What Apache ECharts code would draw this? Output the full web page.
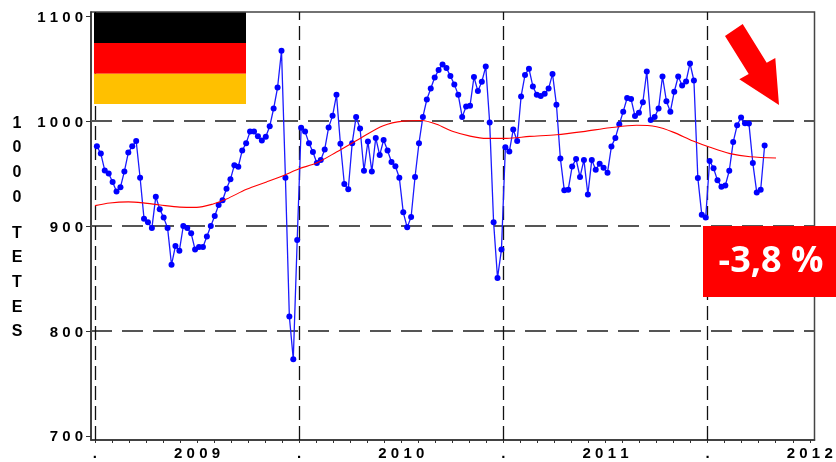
<!DOCTYPE html>
<html><head><meta charset="utf-8">
<style>html,body{margin:0;padding:0;background:#fff}#c{width:836px;height:462px}</style>
<script src="https://cdn.jsdelivr.net/npm/echarts@6/dist/echarts.min.js"></script>
</head><body><div id="c"></div>
<script>
const weeklyValues=[976,969,953,950,942,933,937,952,970,976,981,946,907,903.5,898,928,916,908,898,863,881,876.5,900,898,893,877.5,880,880,890,900,909.5,920,924.5,935.5,944.5,958,956.5,972,979,990,990,985.5,981.5,985,995,1012,1032,1067,946,813.7,773,886.7,
993.7,990,979,970.5,960,963,973,994,1005,1025,978.4,940,935,979,1004,993,952.7,980.6,952,984,967.6,982,972,961,957,946,913,898.7,908.6,946.7,979,1004,1020.6,1031,1041.6,1048.6,1054,1050.5,1043,1035,1025,1004,1014,1014.6,1042,1028.6,1037.5,1052,998.7,903.5,850.5,877.5,
975,971,992,981,1023.5,1044,1050,1033,1025,1024,1026,1031,1045,1015.6,964.4,934,934.6,956.8,963.8,946.7,963,930,963,953.6,959.4,955.6,950.8,975.9,984,997,1009,1022,1021,1004.8,1008,1018,1047.3,1001,1004,1012,1042.5,1019,1009,1028,1042.5,1034,1037.8,1055,1038.7,945.7,910.8,908,
962,955,943.5,937.5,938.7,952.7,980,996,1003.5,998,997.8,960,932,934.6,976.8];
const trendWeeks=[0,3.8,8.5,12.3,16.6,21.6,25.9,30.1,33.5,38.6,43.7,47.9,52,56.4,61.5,67.5,73.4,78.5,83.2,87,91.2,95.5,99.7,104.8,110.7,117.5,124.3,131.1,137.9,143,147.2,152.3,156.6,161.7,166.8,173.4];
const trendValues=[919.4,922,923,922,920,918,917.8,921,925.7,935,942,948,954.6,960,970.5,983.5,995.6,1000,1000.6,997,990,985.7,983.5,983.5,985.4,987,990,993.6,996,994.6,989.5,981,975,969,966,964.8];
const yTicks=[700,800,900,1000,1100];
const gridLevels=[800,900,1000];
const yearStarts=[0,52,104,156];
const yearLabels=['2009','2010','2011','2012'];
const unitLabel=['1','0','0','0'];
const nameLabel=['T','E','T','E','S'];
const monthTicks=[];for(let m=0;m<=42;m++)monthTicks.push(m*52/12);
const labelTicks=[];for(let y=0;y<4;y++){labelTicks.push(y*52);labelTicks.push(y*52+26);}
const spaced=s=>String(s).split('').join(' ');
const bold={fontFamily:'"Liberation Sans",Arial,sans-serif',fontWeight:'bold',color:'#000'};
const sideText={...bold,fontSize:16,lineHeight:24.6,align:'center'};
const chart=echarts.init(document.getElementById('c'),null,{renderer:'canvas'});
chart.setOption({
 animation:false,backgroundColor:'#fff',
 title:[
  {text:unitLabel.join('\n'),left:17,top:111,padding:0,textAlign:'center',textStyle:sideText},
  {text:nameLabel.join('\n'),left:17,top:221,padding:0,textAlign:'center',textStyle:sideText}
 ],
 grid:{left:91,right:21.5,top:12,bottom:22,show:true,borderColor:'#444',borderWidth:1.5,backgroundColor:'transparent'},
 xAxis:{type:'value',min:-1,max:183.2,
  axisLine:{show:true,onZero:false,lineStyle:{color:'#333',width:1.5}},
  axisTick:{show:true,length:3,inside:false,customValues:monthTicks,lineStyle:{color:'#333',width:1}},
  axisLabel:{show:true,...bold,fontSize:15,margin:6,customValues:labelTicks,hideOverlap:false,showMinLabel:true,showMaxLabel:true,
    formatter:v=>{const r=Math.round(v);return r%52===26?spaced(yearLabels[(r-26)/52]):'.';}},
  splitLine:{show:false}},
 yAxis:{type:'value',min:696,max:1104,
  axisLine:{show:true,onZero:false,lineStyle:{color:'#333',width:1.5}},
  axisTick:{show:true,length:5,customValues:yTicks,lineStyle:{color:'#333',width:1}},
  axisLabel:{show:true,...bold,fontSize:15,margin:8,customValues:yTicks,formatter:v=>`{d|${spaced(v)}}`,
    rich:{d:{...bold,fontSize:15,padding:[3,0,0,0]}}},
  splitLine:{show:false}},
 series:[
  {name:'Hebdo',type:'line',z:3,data:weeklyValues.map((v,i)=>[i+0.5,v]),
   symbol:'circle',symbolSize:6,showSymbol:true,showAllSymbols:true,
   itemStyle:{color:'#0000FF'},lineStyle:{color:'#1a1aff',width:1.3},
   markLine:{silent:true,symbol:'none',label:{show:false},z:1,animation:false,
    data:[
     ...gridLevels.map(v=>({yAxis:v,lineStyle:{color:'#555',width:1.8,type:[21,10]}})),
     ...yearStarts.map(v=>({xAxis:v,lineStyle:{color:'#111',width:1.3,type:[14,6]}}))
    ]}},
  {name:'Tendance',type:'line',z:4,data:trendWeeks.map((w,i)=>[w,trendValues[i]]),
   symbol:'none',smooth:0.3,lineStyle:{color:'#FF0000',width:1.1}}
 ],
 graphic:[
  {type:'rect',z:50,shape:{x:94,y:12.5,width:152,height:30.5},style:{fill:'#000'}},
  {type:'rect',z:50,shape:{x:94,y:43,width:152,height:30.7},style:{fill:'#FF0000'}},
  {type:'rect',z:50,shape:{x:94,y:73.7,width:152,height:30.3},style:{fill:'#FFC000'}},
  {type:'polygon',z:50,shape:{points:[[725,36],[742.7,24],[766.7,62.7],[775.3,58],[779,105],[739.3,79.3],[748.7,74]]},style:{fill:'#FF0000'}},
  {type:'rect',z:50,shape:{x:703,y:226,width:133,height:71},style:{fill:'#FF0000'}},
  {type:'text',z:51,x:771,y:262,style:{text:'-3,8 %',fill:'#fff',font:'bold 36px "Open Sans",sans-serif',textAlign:'center',textVerticalAlign:'middle'}}
 ]
});
</script></body></html>
